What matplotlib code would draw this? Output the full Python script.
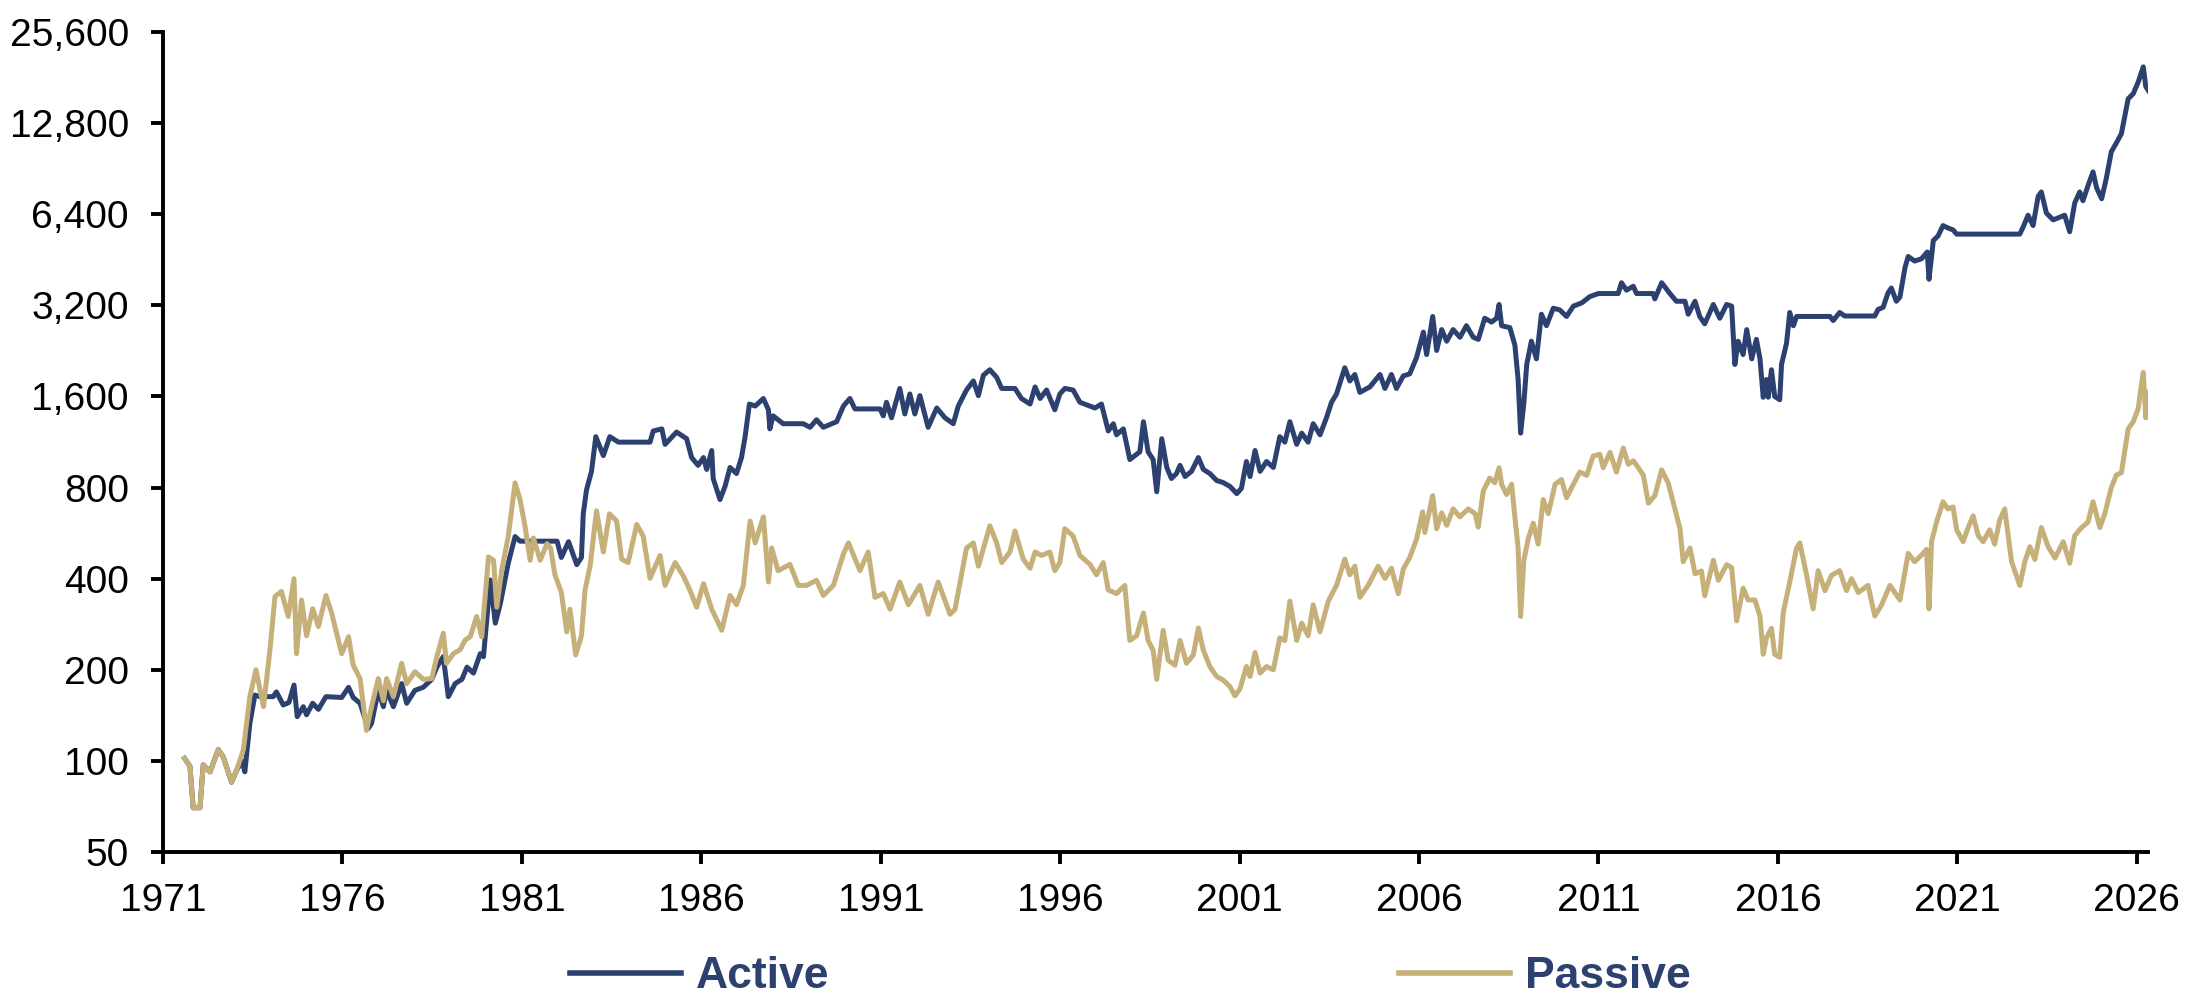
import matplotlib
matplotlib.use("Agg")
import matplotlib.pyplot as plt
from matplotlib.ticker import FixedLocator, FuncFormatter, NullLocator

# (year, index level), log scale
active = [
    (1971.60, 102), (1971.75, 96), (1971.84, 70), (1972.03, 70), (1972.12, 97), (1972.31, 92),
    (1972.54, 109), (1972.68, 103), (1972.91, 85), (1973.05, 93), (1973.20, 100), (1973.28, 92),
    (1973.42, 133), (1973.56, 165), (1973.70, 163), (1974.07, 163), (1974.16, 169), (1974.35, 153),
    (1974.51, 156), (1974.65, 178), (1974.74, 140), (1974.91, 151), (1975.00, 142), (1975.17, 155),
    (1975.33, 148), (1975.54, 163), (1975.98, 162), (1976.17, 175), (1976.30, 162), (1976.49, 155),
    (1976.72, 128), (1976.81, 133), (1977.00, 171), (1977.14, 151), (1977.23, 171), (1977.42, 151),
    (1977.65, 180), (1977.79, 155), (1978.02, 171), (1978.25, 175), (1978.49, 186), (1978.63, 204),
    (1978.81, 221), (1978.95, 163), (1979.14, 180), (1979.33, 186), (1979.47, 204), (1979.65, 195),
    (1979.84, 226), (1979.93, 221), (1980.12, 396), (1980.26, 285), (1980.40, 331), (1980.62, 450),
    (1980.81, 551), (1980.95, 532), (1981.98, 532), (1982.10, 470), (1982.30, 530), (1982.53, 445),
    (1982.66, 470), (1982.71, 655), (1982.80, 785), (1982.94, 905), (1983.06, 1178), (1983.27, 1020),
    (1983.45, 1178), (1983.69, 1130), (1984.57, 1130), (1984.66, 1230), (1984.90, 1250), (1984.99, 1111),
    (1985.31, 1220), (1985.59, 1160), (1985.73, 1005), (1985.91, 947), (1986.06, 1005), (1986.15, 918),
    (1986.29, 1060), (1986.33, 857), (1986.52, 730), (1986.66, 807), (1986.80, 932), (1986.98, 890),
    (1987.12, 1005), (1987.22, 1178), (1987.34, 1510), (1987.50, 1487), (1987.73, 1575), (1987.87, 1445),
    (1987.91, 1250), (1988.00, 1380), (1988.28, 1300), (1988.84, 1300), (1989.03, 1265), (1989.21, 1340),
    (1989.40, 1265), (1989.77, 1320), (1989.96, 1487), (1990.14, 1575), (1990.28, 1455), (1990.98, 1455),
    (1991.07, 1380), (1991.16, 1530), (1991.30, 1360), (1991.53, 1700), (1991.67, 1400), (1991.81, 1630),
    (1991.95, 1400), (1992.09, 1610), (1992.32, 1265), (1992.56, 1465), (1992.79, 1360), (1993.02, 1300),
    (1993.16, 1487), (1993.39, 1680), (1993.58, 1800), (1993.72, 1610), (1993.86, 1880), (1994.04, 1960),
    (1994.23, 1850), (1994.37, 1700), (1994.74, 1700), (1994.92, 1575), (1995.16, 1510), (1995.30, 1720),
    (1995.44, 1575), (1995.62, 1680), (1995.85, 1445), (1995.99, 1630), (1996.13, 1700), (1996.36, 1680),
    (1996.55, 1530), (1996.83, 1487), (1996.97, 1465), (1997.15, 1510), (1997.34, 1230), (1997.48, 1300),
    (1997.57, 1195), (1997.76, 1250), (1997.94, 990), (1998.08, 1020), (1998.22, 1050), (1998.32, 1320),
    (1998.45, 1050), (1998.59, 990), (1998.69, 775), (1998.83, 1160), (1998.97, 932), (1999.10, 857),
    (1999.24, 890), (1999.34, 947), (1999.48, 870), (1999.66, 905), (1999.85, 1005), (1999.99, 918),
    (2000.17, 890), (2000.36, 844), (2000.54, 831), (2000.73, 807), (2000.92, 764), (2001.05, 795),
    (2001.19, 975), (2001.29, 870), (2001.43, 1060), (2001.57, 905), (2001.75, 975), (2001.94, 932),
    (2002.12, 1178), (2002.26, 1130), (2002.40, 1320), (2002.59, 1111), (2002.73, 1210), (2002.91, 1130),
    (2003.05, 1300), (2003.24, 1195), (2003.42, 1360), (2003.56, 1530), (2003.70, 1630), (2003.93, 1990),
    (2004.07, 1800), (2004.21, 1890), (2004.35, 1650), (2004.63, 1720), (2004.91, 1890), (2005.05, 1700),
    (2005.23, 1890), (2005.37, 1700), (2005.56, 1870), (2005.74, 1900), (2005.93, 2150), (2006.12, 2610),
    (2006.21, 2200), (2006.38, 2940), (2006.49, 2270), (2006.63, 2660), (2006.77, 2435), (2006.95, 2660),
    (2007.14, 2510), (2007.32, 2740), (2007.51, 2510), (2007.65, 2470), (2007.83, 2900), (2008.02, 2817),
    (2008.16, 2900), (2008.23, 3220), (2008.30, 2740), (2008.53, 2700), (2008.67, 2365), (2008.76, 1820),
    (2008.83, 1210), (2008.92, 1520), (2009.00, 2040), (2009.13, 2435), (2009.27, 2130), (2009.41, 2990),
    (2009.55, 2740), (2009.74, 3130), (2009.92, 3090), (2010.11, 2940), (2010.30, 3180), (2010.53, 3257),
    (2010.76, 3420), (2011.00, 3500), (2011.55, 3500), (2011.64, 3800), (2011.78, 3590), (2011.97, 3700),
    (2012.06, 3500), (2012.52, 3500), (2012.57, 3360), (2012.76, 3800), (2012.99, 3500), (2013.17, 3300),
    (2013.41, 3300), (2013.50, 2990), (2013.69, 3300), (2013.82, 2940), (2013.96, 2780), (2014.20, 3220),
    (2014.38, 2900), (2014.57, 3220), (2014.71, 3180), (2014.80, 2040), (2014.89, 2435), (2015.03, 2200),
    (2015.13, 2660), (2015.27, 2130), (2015.40, 2470), (2015.50, 2130), (2015.59, 1590), (2015.68, 1820),
    (2015.73, 1590), (2015.82, 1960), (2015.91, 1600), (2016.05, 1560), (2016.10, 2040), (2016.24, 2400),
    (2016.33, 3030), (2016.43, 2740), (2016.52, 2940), (2017.45, 2940), (2017.54, 2850), (2017.72, 3030),
    (2017.86, 2950), (2018.70, 2950), (2018.79, 3100), (2018.93, 3150), (2019.07, 3520), (2019.16, 3650),
    (2019.30, 3300), (2019.40, 3410), (2019.54, 4260), (2019.63, 4640), (2019.81, 4480), (2020.00, 4560),
    (2020.16, 4800), (2020.21, 3900), (2020.33, 5240), (2020.46, 5420), (2020.60, 5870), (2020.74, 5760),
    (2020.88, 5680), (2020.98, 5500), (2022.74, 5500), (2022.85, 5870), (2022.97, 6350), (2023.11, 5870),
    (2023.25, 7320), (2023.34, 7580), (2023.48, 6460), (2023.67, 6130), (2023.85, 6250), (2023.99, 6350),
    (2024.13, 5600), (2024.27, 6970), (2024.41, 7580), (2024.50, 7090), (2024.64, 7950), (2024.78, 8830),
    (2024.88, 7820), (2025.02, 7200), (2025.15, 8400), (2025.29, 10300), (2025.43, 11000), (2025.57, 11800),
    (2025.76, 15400), (2025.90, 16000), (2026.04, 17500), (2026.18, 19630), (2026.25, 16900), (2026.32, 16400),
]

passive = [
    (1971.60, 102), (1971.75, 96), (1971.84, 70), (1972.03, 70), (1972.12, 97), (1972.31, 92),
    (1972.54, 109), (1972.68, 103), (1972.91, 85), (1973.05, 93), (1973.24, 109), (1973.42, 163),
    (1973.59, 200), (1973.80, 151), (1973.98, 233), (1974.12, 349), (1974.30, 363), (1974.49, 300),
    (1974.65, 400), (1974.72, 226), (1974.86, 340), (1975.00, 259), (1975.17, 318), (1975.33, 278),
    (1975.54, 352), (1975.70, 308), (1975.79, 278), (1975.98, 226), (1976.17, 257), (1976.30, 207),
    (1976.49, 187), (1976.67, 126), (1976.81, 151), (1977.00, 187), (1977.14, 158), (1977.23, 187),
    (1977.42, 163), (1977.65, 210), (1977.79, 180), (1978.02, 197), (1978.25, 186), (1978.49, 187),
    (1978.63, 221), (1978.81, 264), (1978.90, 210), (1979.09, 226), (1979.28, 233), (1979.42, 251),
    (1979.56, 257), (1979.74, 300), (1979.88, 257), (1980.07, 472), (1980.21, 460), (1980.30, 322),
    (1980.44, 428), (1980.62, 551), (1980.81, 829), (1980.95, 729), (1981.09, 593), (1981.23, 460),
    (1981.32, 545), (1981.51, 460), (1981.70, 522), (1981.80, 505), (1981.92, 412), (1982.10, 360),
    (1982.25, 267), (1982.34, 317), (1982.50, 224), (1982.66, 259), (1982.76, 367), (1982.90, 440),
    (1983.08, 670), (1983.27, 490), (1983.44, 655), (1983.64, 620), (1983.78, 464), (1983.96, 452),
    (1984.20, 604), (1984.38, 553), (1984.57, 401), (1984.85, 477), (1984.99, 380), (1985.27, 452),
    (1985.50, 408), (1985.68, 367), (1985.87, 322), (1986.06, 385), (1986.29, 317), (1986.57, 270),
    (1986.80, 352), (1986.98, 328), (1987.17, 380), (1987.36, 620), (1987.50, 525), (1987.73, 640),
    (1987.87, 390), (1987.96, 505), (1988.14, 425), (1988.47, 446), (1988.70, 380), (1988.93, 380),
    (1989.21, 395), (1989.40, 352), (1989.68, 380), (1989.96, 483), (1990.10, 525), (1990.42, 425),
    (1990.65, 490), (1990.84, 347), (1991.07, 357), (1991.26, 317), (1991.53, 390), (1991.77, 328),
    (1992.09, 380), (1992.32, 305), (1992.60, 390), (1992.93, 305), (1993.07, 317), (1993.39, 505),
    (1993.58, 525), (1993.72, 440), (1994.04, 598), (1994.23, 525), (1994.37, 452), (1994.60, 490),
    (1994.74, 575), (1994.97, 464), (1995.16, 433), (1995.30, 490), (1995.48, 477), (1995.71, 490),
    (1995.85, 425), (1995.99, 452), (1996.13, 585), (1996.36, 553), (1996.55, 477), (1996.83, 446),
    (1997.01, 412), (1997.20, 452), (1997.34, 367), (1997.57, 357), (1997.80, 380), (1997.94, 250),
    (1998.13, 259), (1998.32, 308), (1998.45, 250), (1998.59, 232), (1998.69, 186), (1998.87, 270),
    (1999.01, 215), (1999.20, 207), (1999.34, 250), (1999.52, 210), (1999.71, 224), (1999.85, 275),
    (1999.99, 232), (2000.17, 205), (2000.36, 190), (2000.54, 185), (2000.73, 176), (2000.87, 164),
    (2001.01, 173), (2001.19, 205), (2001.29, 190), (2001.43, 228), (2001.57, 195), (2001.75, 205),
    (2001.94, 200), (2002.12, 255), (2002.26, 250), (2002.40, 337), (2002.59, 250), (2002.73, 285),
    (2002.91, 259), (2003.05, 328), (2003.24, 267), (2003.47, 337), (2003.70, 380), (2003.93, 464),
    (2004.07, 412), (2004.21, 440), (2004.35, 347), (2004.58, 380), (2004.86, 440), (2005.05, 401),
    (2005.23, 433), (2005.42, 357), (2005.56, 430), (2005.74, 470), (2005.93, 540), (2006.10, 665),
    (2006.16, 568), (2006.38, 752), (2006.49, 585), (2006.63, 660), (2006.77, 600), (2006.95, 680),
    (2007.14, 640), (2007.37, 680), (2007.56, 656), (2007.65, 592), (2007.79, 780), (2007.97, 860),
    (2008.11, 830), (2008.23, 930), (2008.30, 820), (2008.44, 759), (2008.58, 820), (2008.67, 640),
    (2008.76, 505), (2008.83, 300), (2008.92, 460), (2009.04, 540), (2009.18, 610), (2009.32, 520),
    (2009.46, 730), (2009.60, 656), (2009.79, 820), (2009.97, 850), (2010.11, 740), (2010.30, 820),
    (2010.48, 900), (2010.67, 878), (2010.85, 1016), (2011.04, 1030), (2011.13, 930), (2011.32, 1045),
    (2011.50, 900), (2011.69, 1080), (2011.83, 955), (2011.97, 980), (2012.11, 930), (2012.25, 878),
    (2012.39, 710), (2012.57, 752), (2012.76, 915), (2012.94, 830), (2013.13, 680), (2013.27, 585),
    (2013.36, 455), (2013.55, 505), (2013.69, 415), (2013.87, 424), (2013.96, 351), (2014.20, 460),
    (2014.34, 395), (2014.57, 445), (2014.71, 435), (2014.85, 290), (2015.03, 372), (2015.17, 340),
    (2015.36, 340), (2015.50, 300), (2015.59, 225), (2015.68, 255), (2015.82, 274), (2015.91, 225),
    (2016.05, 220), (2016.15, 310), (2016.33, 390), (2016.52, 505), (2016.61, 525), (2016.80, 410),
    (2016.98, 318), (2017.12, 425), (2017.31, 365), (2017.49, 410), (2017.72, 425), (2017.91, 365),
    (2018.05, 400), (2018.24, 360), (2018.51, 380), (2018.70, 301), (2018.89, 328), (2019.12, 380),
    (2019.40, 340), (2019.63, 485), (2019.81, 455), (2020.05, 485), (2020.14, 500), (2020.21, 318),
    (2020.28, 530), (2020.42, 615), (2020.60, 718), (2020.74, 680), (2020.88, 690), (2020.98, 580),
    (2021.16, 530), (2021.30, 590), (2021.44, 645), (2021.58, 555), (2021.72, 530), (2021.90, 580),
    (2022.04, 520), (2022.18, 625), (2022.32, 680), (2022.51, 455), (2022.74, 380), (2022.88, 455),
    (2023.02, 510), (2023.16, 463), (2023.34, 590), (2023.53, 510), (2023.72, 468), (2023.95, 530),
    (2024.13, 450), (2024.27, 555), (2024.46, 590), (2024.64, 615), (2024.78, 718), (2024.97, 590),
    (2025.11, 657), (2025.29, 800), (2025.43, 880), (2025.57, 895), (2025.76, 1250), (2025.90, 1320),
    (2026.04, 1460), (2026.13, 1760), (2026.18, 1920), (2026.25, 1360), (2026.32, 1650),
]

y_ticks = [50, 100, 200, 400, 800, 1600, 3200, 6400, 12800, 25600]
x_ticks = [1971, 1976, 1981, 1986, 1991, 1996, 2001, 2006, 2011, 2016, 2021, 2026]

NAVY = "#2d4170"
TAN = "#c6b07a"

plt.rcParams["font.family"] = ["Liberation Sans", "DejaVu Sans"]

fig = plt.figure(figsize=(21.94, 10.02), dpi=100)
ax = fig.add_axes([0.0743, 0.1497, 0.9047, 0.8184])

ax.plot([p[0] for p in active], [p[1] for p in active], color=NAVY, lw=3.6,
        label="Active", solid_joinstyle="round", zorder=2)
ax.plot([p[0] for p in passive], [p[1] for p in passive], color=TAN, lw=3.6,
        label="Passive", solid_joinstyle="round", zorder=3)

ax.set_yscale("log")
ax.set_ylim(50, 25600)
ax.set_xlim(1971, 2026.31)
ax.yaxis.set_major_locator(FixedLocator(y_ticks))
ax.yaxis.set_minor_locator(NullLocator())
ax.yaxis.set_major_formatter(FuncFormatter(lambda v, _: f"{int(round(v)):,}"))
ax.set_xticks(x_ticks)
ax.set_xticklabels([str(y) for y in x_ticks])

for side in ["top", "right"]:
    ax.spines[side].set_visible(False)
for side in ["left", "bottom"]:
    ax.spines[side].set_linewidth(2.8)
    ax.spines[side].set_color("black")

ax.tick_params(axis="both", direction="out", length=8.6, width=2.8,
               labelsize=28, colors="black")
ax.tick_params(axis="y", pad=16)
ax.tick_params(axis="x", pad=14)

leg = ax.legend(loc="center left", bbox_to_anchor=(570 / 2194, 0.025),
                bbox_transform=fig.transFigure, ncol=2, frameon=False,
                borderpad=0, borderaxespad=0, handlelength=2.5,
                handletextpad=0.34, columnspacing=12.8,
                prop={"family": "Liberation Sans", "weight": "bold", "size": 32})
for t in leg.get_texts():
    t.set_color(NAVY)
for h in leg.get_lines():
    h.set_linewidth(4.0)

fig.savefig("out.png", dpi=100)
